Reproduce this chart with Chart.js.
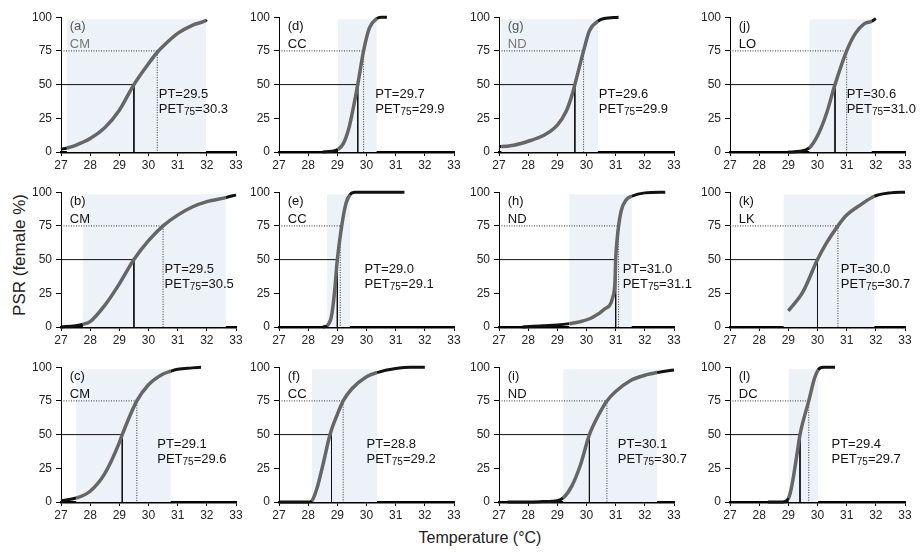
<!DOCTYPE html>
<html>
<head>
<meta charset="utf-8">
<script src="https://cdn.jsdelivr.net/npm/chart.js@4.4.1/dist/chart.umd.min.js"></script>
<style>
  body { margin: 0; background: #fff; width: 924px; height: 552px; position: relative; overflow: hidden;
         font-family: "Liberation Sans", Arial, sans-serif; }
  canvas { position: absolute; }
  .ttl { position: absolute; font-size: 16px; color: #222; white-space: nowrap; }
  #xt { left: 480px; top: 538px; transform: translate(-50%, -50%); }
  #yt { left: 20px; top: 255px; transform: translate(-50%, -50%) rotate(-90deg); font-size: 17px; }
</style>
</head>
<body>
<div class="ttl" id="xt">Temperature (°C)</div>
<div class="ttl" id="yt">PSR (female %)</div>
<script>
'use strict';

// panel letters and sites, panels run down each column
const panelIds = ['a', 'b', 'c', 'd', 'e', 'f', 'g', 'h', 'i', 'j', 'k', 'l'];
const sites = ['CM', 'CM', 'CM', 'CC', 'CC', 'CC', 'ND', 'ND', 'ND', 'LO', 'LK', 'DC'];
const ptValues = [29.5, 29.5, 29.1, 29.7, 29.0, 28.8, 29.6, 31.0, 30.1, 30.6, 30.0, 29.4];
const pet75Values = [30.3, 30.5, 29.6, 29.9, 29.1, 29.2, 29.9, 31.1, 30.7, 31.0, 30.7, 29.7];
// shaded range of incubation temperatures
const bandLow = [27.2, 27.75, 27.52, 29.02, 28.65, 28.13, 27.08, 29.41, 29.2, 29.72, 28.84, 29.01];
const bandHigh = [31.97, 32.65, 30.76, 30.35, 29.43, 30.36, 30.39, 31.55, 32.42, 31.86, 31.95, 30.02];
const xTicks = [27, 28, 29, 30, 31, 32, 33];
const yTicks = [0, 25, 50, 75, 100];

// curves (temperature, PSR %)
const tempA = [27, 27.2, 27.5, 28, 28.5, 29, 29.5, 30, 30.3, 30.5, 31, 31.5, 31.97, 32];
const psrA = [2, 3, 5, 10, 18, 31, 50, 65.5, 74, 78.5, 88, 94, 97.5, 98];
const tempB = [27, 27.5, 27.75, 28, 28.5, 29, 29.5, 30, 30.5, 31, 31.5, 32, 32.65, 33];
const psrB = [0, 1, 2, 4, 16, 32, 50, 64, 75, 83, 89, 93, 96, 98];
const tempC = [27, 27.52, 28, 28.5, 29, 29.1, 29.6, 30, 30.5, 30.76, 31, 31.5, 31.8];
const psrC = [1, 3, 8, 21, 44, 50, 75, 87, 95, 97, 98.5, 99.5, 100];
const tempD = [28.5, 28.8, 29.02, 29.2, 29.4, 29.55, 29.7, 29.9, 30.1, 30.35, 30.5, 30.7];
const psrD = [0, 0.5, 2, 6, 18, 33, 50, 75, 92, 99, 100, 100];
const tempE = [28.5, 28.65, 28.8, 28.9, 29.0, 29.15, 29.3, 29.43, 29.6, 30, 31.3];
const psrE = [0, 1, 8, 25, 50, 75, 92, 98, 100, 100, 100];
const tempF = [27, 28, 28.13, 28.3, 28.5, 28.75, 29, 29.2, 29.5, 30, 30.36, 31, 31.5, 32];
const psrF = [0, 0, 1, 10, 27, 50, 65, 75, 84, 93, 96, 99, 100, 100];
const tempG = [27, 27.08, 27.5, 28, 28.5, 29, 29.3, 29.5, 29.6, 29.9, 30.1, 30.39, 30.6, 31.1];
const psrG = [4, 4, 5, 8, 12, 20, 30, 42, 50, 75, 90, 97, 99, 100];
const tempH = [27.8, 28.5, 29, 29.41, 29.8, 30.2, 30.6, 30.9, 30.98, 31.0, 31.05, 31.1, 31.2, 31.35, 31.55, 32, 32.7];
const psrH = [0, 1, 1.5, 2.5, 4, 7, 13, 22, 35, 50, 65, 75, 87, 94, 97, 99.5, 100];
const tempI = [27.3, 28, 28.5, 29, 29.2, 29.5, 29.8, 30.1, 30.4, 30.7, 31, 31.5, 32, 32.42, 33];
const psrI = [0, 0, 0.3, 1, 3, 12, 28, 50, 64, 75, 82, 90, 94, 96, 98];
const tempJ = [29, 29.4, 29.72, 30, 30.3, 30.6, 31, 31.3, 31.6, 31.86, 32];
const psrJ = [0, 0.5, 3, 12, 28, 50, 75, 88, 95, 97, 99];
const tempK = [29, 29.5, 30, 30.3, 30.7, 31, 31.5, 31.95, 32.5, 33];
const psrK = [12, 26, 50, 62, 75, 83, 91, 97, 99.5, 100];
const tempL = [28.3, 28.8, 29.01, 29.1, 29.2, 29.3, 29.4, 29.7, 29.9, 30.02, 30.2, 30.6];
const psrL = [0, 0, 3, 10, 22, 36, 50, 75, 92, 98, 100, 100];

const curveTemps = [tempA, tempB, tempC, tempD, tempE, tempF, tempG, tempH, tempI, tempJ, tempK, tempL];
const curvePsr = [psrA, psrB, psrC, psrD, psrE, psrF, psrG, psrH, psrI, psrJ, psrK, psrL];

// layout (pixels) and where the PT text sits (°C)
const colLeft = [61, 279, 499, 730];
const rowTop = [14, 189, 364];
const plotW = 175, plotH = 138;
const padRight = 32; // room for notes running past the axis end
const noteX = [30.35, 30.55, 30.3, 30.3, 29.93, 30.0, 30.42, 31.24, 31.07, 31.0, 30.8, 30.48];
const greyLabels = ['a', 'g'];

const fontFam = '"Liberation Sans", Arial, sans-serif';
const curveGrey = 'rgb(102,102,102)';
const bandFill = '#edf1f8';

function toPts(xs, ys) {
  return xs.map((x, k) => ({ x: x, y: ys[k] }));
}

function makePanel(i) {
  const col = Math.floor(i / 3), row = i % 3;
  const cv = document.createElement('canvas');
  cv.width = 40 + plotW + padRight;
  cv.height = 8 + plotH + 22;
  cv.style.left = (colLeft[col] - 40) + 'px';
  cv.style.top = (rowTop[row] - 8) + 'px';
  document.body.appendChild(cv);

  const pt = ptValues[i], pet = pet75Values[i];
  const lo = bandLow[i], hi = bandHigh[i];

  const notes = {
    id: 'notes' + i,
    beforeDatasetsDraw(chart) {
      const c = chart.ctx, xs = chart.scales.x, ys = chart.scales.y;
      c.save();
      c.fillStyle = bandFill;
      const x1 = xs.getPixelForValue(lo), x2 = xs.getPixelForValue(hi);
      const y1 = ys.getPixelForValue(98.5), y2 = ys.getPixelForValue(0);
      c.fillRect(x1, y1, x2 - x1, y2 - y1);
      c.restore();
    },
    afterDatasetsDraw(chart) {
      const c = chart.ctx, xs = chart.scales.x, ys = chart.scales.y;
      const grey = greyLabels.indexOf(panelIds[i]) >= 0;
      c.save();
      c.textBaseline = 'middle';
      c.font = '13px ' + fontFam;
      const lx = xs.getPixelForValue(27.3);
      c.fillStyle = grey ? '#555' : '#111';
      c.fillText('(' + panelIds[i] + ')', lx, ys.getPixelForValue(93));
      c.fillStyle = grey ? '#777' : '#111';
      c.fillText(sites[i], lx, ys.getPixelForValue(80));

      // PT and PET75 note, with a subscript
      c.fillStyle = '#111';
      const nx = xs.getPixelForValue(noteX[i]);
      const ny = ys.getPixelForValue(43);
      c.fillText('PT=' + pt.toFixed(1), nx, ny);
      const ny2 = ny + 15;
      c.fillText('PET', nx, ny2);
      let w = c.measureText('PET').width;
      c.font = '10px ' + fontFam;
      c.fillText('75', nx + w, ny2 + 3);
      w += c.measureText('75').width;
      c.font = '13px ' + fontFam;
      c.fillText('=' + pet.toFixed(1), nx + w, ny2);
      c.restore();
    }
  };

  const inBand = ctx => {
    const m = (ctx.p0.parsed.x + ctx.p1.parsed.x) / 2;
    return m >= lo && m <= hi;
  };

  new Chart(cv.getContext('2d'), {
    type: 'line',
    data: {
      datasets: [
        {
          data: toPts(curveTemps[i], curvePsr[i]),
          borderColor: curveGrey,
          borderWidth: 3.5,
          pointRadius: 0,
          cubicInterpolationMode: 'monotone',
          clip: 6,
          segment: {
            borderColor: ctx => inBand(ctx) ? curveGrey : '#111',
            borderWidth: ctx => inBand(ctx) ? 3.5 : 3
          }
        },
        {
          data: [{ x: 27, y: 50 }, { x: pt, y: 50 }, { x: pt, y: 0 }],
          borderColor: '#111',
          borderWidth: 1,
          pointRadius: 0,
          tension: 0
        },
        {
          data: [{ x: 27, y: 75 }, { x: pet, y: 75 }, { x: pet, y: 0 }],
          borderColor: '#333',
          borderWidth: 1,
          borderDash: [1, 1.5],
          pointRadius: 0,
          tension: 0
        }
      ]
    },
    options: {
      responsive: false,
      animation: false,
      devicePixelRatio: 1,
      layout: { padding: { top: 8, right: padRight, left: 0, bottom: 0 } },
      plugins: { legend: { display: false }, tooltip: { enabled: false } },
      scales: {
        x: {
          type: 'linear', min: 27, max: 33,
          afterFit: s => { s.height = 22; },
          afterBuildTicks: s => { s.ticks = xTicks.map(v => ({ value: v })); },
          ticks: { color: '#222', font: { size: 12, family: fontFam }, padding: 2, maxRotation: 0 },
          grid: { drawOnChartArea: false, tickLength: 4, color: '#000' },
          border: { width: 2.5, color: '#000' }
        },
        y: {
          min: 0, max: 100,
          afterFit: s => { s.width = 40; },
          afterBuildTicks: s => { s.ticks = yTicks.map(v => ({ value: v })); },
          ticks: { color: '#222', font: { size: 12, family: fontFam }, padding: 4 },
          grid: { drawOnChartArea: false, tickLength: 5, color: '#000' },
          border: { width: 1, color: '#000' }
        }
      }
    },
    plugins: [notes]
  });
}

for (let i = 0; i < panelIds.length; i++) {
  makePanel(i);
}
</script>
</body>
</html>
